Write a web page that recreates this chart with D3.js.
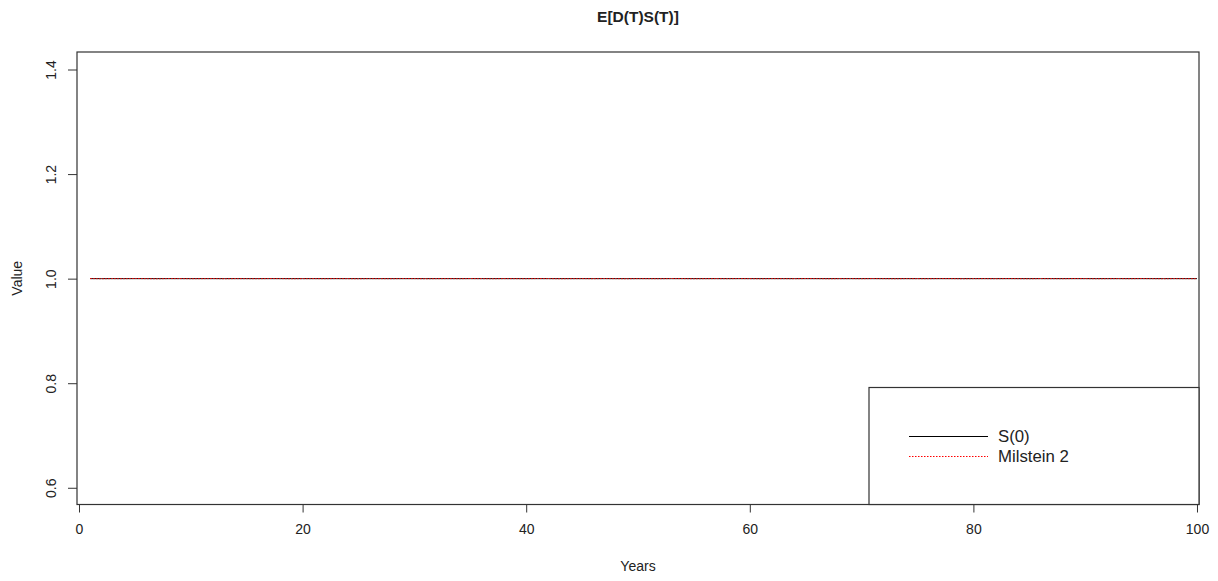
<!DOCTYPE html>
<html><head><meta charset="utf-8">
<script src="https://cdn.jsdelivr.net/npm/d3@7"></script>
<style>body{margin:0;background:#fff;}text{font-family:"Liberation Sans",Arial,sans-serif;}</style>
</head><body>
<svg id="c" width="1218" height="581"></svg>
<script>
const years = d3.range(1, 101);
const s0Values = years.map(() => 1.0);
const milsteinValues = [1.0002,0.9998,1.0001,0.9999,1.0003,1.0,0.9997,1.0002,1.0001,0.9999,1.0,1.0002,0.9998,1.0001,1.0,0.9999,1.0002,1.0001,0.9998,1.0,1.0001,0.9999,1.0002,1.0,0.9998,1.0001,1.0,0.9999,1.0002,1.0001,0.9998,1.0,1.0001,0.9999,1.0002,1.0,0.9998,1.0001,1.0,0.9999,1.0002,1.0001,0.9998,1.0,1.0001,0.9999,1.0002,1.0,0.9998,1.0001,1.0,0.9999,1.0002,1.0001,0.9998,1.0,1.0001,0.9999,1.0002,1.0,0.9998,1.0001,1.0,0.9999,1.0002,1.0001,0.9998,1.0,1.0001,0.9999,1.0002,1.0,0.9998,1.0001,1.0,0.9999,1.0002,1.0001,0.9998,1.0,1.0001,0.9999,1.0002,1.0,0.9998,1.0001,1.0,0.9999,1.0002,1.0001,0.9998,1.0,1.0001,0.9999,1.0002,1.0,0.9998,1.0001,1.0,0.9999];
const xTicks = [0, 20, 40, 60, 80, 100];
const yTicks = [0.6, 0.8, 1.0, 1.2, 1.4];
const legendLabels = ["S(0)", "Milstein 2"];
const title = "E[D(T)S(T)]";

const svg = d3.select("#c");
const L = 77, R = 1199, T = 52, B = 504.5;
const x = d3.scaleLinear().domain([-0.18, 100.18]).range([L, R]);
const y = d3.scaleLinear().domain([0.568, 1.4335]).range([B, T]);
const ink = "#222";

// data lines
const line = d3.line().x((d,i) => x(years[i])).y(d => y(d));
svg.append("path").datum(s0Values).attr("d", line)
  .attr("fill","none").attr("stroke","#000").attr("stroke-width",1);
svg.append("path").datum(milsteinValues).attr("d", line)
  .attr("fill","none").attr("stroke","#ff0000").attr("stroke-width",1).attr("stroke-dasharray","1.5,1.5");

// axes
const xAxis = svg.append("g").attr("transform",`translate(0,${B})`)
  .call(d3.axisBottom(x).tickValues(xTicks).tickFormat(d3.format("d")).tickSize(8).tickPadding(12));
const yAxis = svg.append("g").attr("transform",`translate(${L},0)`)
  .call(d3.axisLeft(y).tickValues(yTicks).tickFormat(d3.format(".1f")).tickSize(9).tickPadding(0));
[xAxis, yAxis].forEach(a => {
  a.select(".domain").remove();
  a.selectAll("line").attr("stroke", "#333");
  a.selectAll("text").attr("fill", ink).style("font-size","14px").style("font-family","Liberation Sans, Arial, sans-serif");
});
yAxis.selectAll(".tick text")
  .attr("x", null).attr("dy", null)
  .attr("text-anchor","middle")
  .attr("transform", "translate(-26,0) rotate(-90)")
  .attr("dy","0.35em");

// plot box
svg.append("rect").attr("x",L).attr("y",T).attr("width",R-L).attr("height",B-T)
  .attr("fill","none").attr("stroke","#333").attr("stroke-width",1.2);

// title and labels
svg.append("text").attr("x",(L+R)/2).attr("y",22).attr("text-anchor","middle")
  .style("font-size","15.5px").style("font-weight","bold").attr("fill",ink).text(title);
svg.append("text").attr("x",(L+R)/2).attr("y",571).attr("text-anchor","middle")
  .style("font-size","14px").attr("fill",ink).text("Years");
svg.append("text").attr("transform",`translate(22,${(T+B)/2}) rotate(-90)`).attr("text-anchor","middle")
  .style("font-size","14px").attr("fill",ink).text("Value");

// legend
const lg = svg.append("g");
lg.append("rect").attr("x",869).attr("y",387.5).attr("width",R-869).attr("height",B-387.5)
  .attr("fill","#fff").attr("stroke","#333").attr("stroke-width",1.2);
const styles = [{c:"#000",d:null},{c:"#ff0000",d:"1.5,1.5"}];
legendLabels.forEach((lab,i) => {
  const yy = 436.5 + i*20;
  lg.append("line").attr("x1",909).attr("x2",988).attr("y1",yy).attr("y2",yy)
    .attr("stroke",styles[i].c).attr("stroke-width",1).attr("stroke-dasharray",styles[i].d);
  lg.append("text").attr("x",998).attr("y",yy).attr("dy","0.35em")
    .style("font-size","16.8px").attr("fill",ink).text(lab);
});
</script>
</body></html>
